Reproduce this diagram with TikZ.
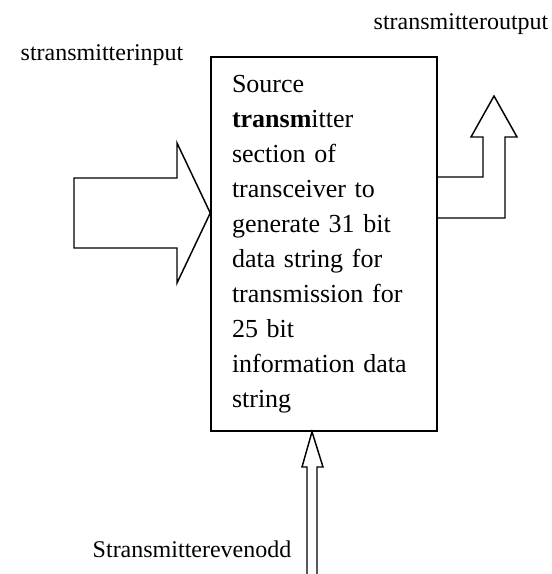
\documentclass[tikz,border=0pt]{standalone}
\usepackage{fontspec}
\setmainfont{Liberation Serif}
\usepackage{tikz}
\usetikzlibrary{positioning}

\begin{document}
\begin{tikzpicture}[
  x=0.75pt, y=-0.75pt,
  line width=1.1pt,
  every node/.style={inner sep=0pt},
  block/.style={draw, rectangle, minimum width=169.5pt, minimum height=280.5pt,
                text width=138pt, align=left,
                font=\fontsize{19.5}{26.25}\selectfont},
  sig/.style={font=\fontsize{18}{22}\selectfont, anchor=base west},
  fatarrow/.style={draw, line join=miter}
]
  \useasboundingbox (0,0) rectangle (552,574);

  \node[block] (src) at (324,244) {Source\\
    \textbf{transm}itter\\
    section of\\
    transceiver to\\
    generate 31 bit\\
    data string for\\
    transmission for\\
    25 bit\\
    information data\\
    string};

  % input arrow
  \draw[fatarrow] (74,178) -- (177,178) -- (177,143) -- (src.west |- 0,213)
    -- (177,283) -- (177,248) -- (74,248) -- cycle;

  % output arrow
  \draw[fatarrow] (src.east |- 0,218) -- (505,218) -- (505,137) -- (517,137)
    -- (494,96) -- (471,137) -- (483,137) -- (483,177) -- (src.east |- 0,177);

  % even/odd arrow
  \draw[fatarrow] (307,574) -- (307,467) -- (302,467) -- (src.south -| 312,0)
    -- (323,467) -- (317,467) -- (317,574);

  \node[sig] (lin)  at (20,61)  {stransmitterinput};
  \node[sig] (lout) at (373,30) {stransmitteroutput};
  \node[sig] (leo)  at (92,557) {Stransmitterevenodd};
\end{tikzpicture}
\end{document}
